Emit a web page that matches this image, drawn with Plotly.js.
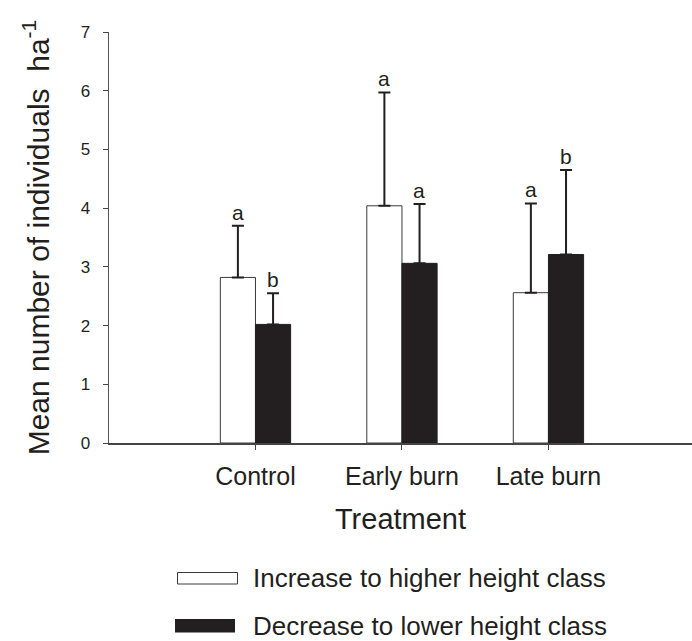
<!DOCTYPE html>
<html>
<head>
<meta charset="utf-8">
<script src="https://cdn.plot.ly/plotly-3.0.1.min.js"></script>
<style>html,body{margin:0;padding:0;background:#fff;}#chart{width:692px;height:641px;}</style>
</head>
<body>
<div id="chart"></div>
<script>
// ---- data ----
var categories = ["Control", "Early burn", "Late burn"];
var increaseMean = [2.82, 4.04, 2.56];
var increaseErr = [0.88, 1.93, 1.52];
var increaseLetters = ["a", "a", "a"];
var decreaseMean = [2.02, 3.06, 3.21];
var decreaseErr = [0.53, 1.01, 1.44];
var decreaseLetters = ["b", "a", "b"];
var seriesNames = ["Increase to higher height class", "Decrease to lower height class"];
var yTitle = "Mean number of individuals  ha<sup>-1</sup>";
var xTitle = "Treatment";

// ---- layout helpers ----
var W = 692, H = 641;
var M = {l: 109, r: 0, t: 32, b: 198};
var plotW = W - M.l - M.r, plotH = H - M.t - M.b;
function px(x) { return (x - M.l) / plotW; }
function py(y) { return (H - M.b - y) / plotH; }
var ink = "#231f20";
var font = "Liberation Sans, Arial, sans-serif";

function zeros(n) { var a = []; for (var i = 0; i < n; i++) a.push(0); return a; }

var traces = [
  {
    type: "bar", name: seriesNames[0], x: categories, y: increaseMean,
    marker: {color: "#ffffff", line: {color: "#3a3a3a", width: 1}},
    error_y: {type: "data", symmetric: false, array: increaseErr, arrayminus: zeros(increaseErr.length),
              color: ink, thickness: 2, width: 6},
    showlegend: false
  },
  {
    type: "bar", name: seriesNames[1], x: categories, y: decreaseMean,
    marker: {color: ink, line: {color: ink, width: 1}},
    error_y: {type: "data", symmetric: false, array: decreaseErr, arrayminus: zeros(decreaseErr.length),
              color: ink, thickness: 2, width: 6},
    showlegend: false
  }
];

var annotations = [];
var barHalf = 17.5;
for (var i = 0; i < categories.length; i++) {
  annotations.push({x: categories[i], y: increaseMean[i] + increaseErr[i], xref: "x", yref: "y",
    text: increaseLetters[i], showarrow: false, xshift: -barHalf, yshift: 0, yanchor: "bottom",
    font: {family: font, size: 21, color: ink}});
  annotations.push({x: categories[i], y: decreaseMean[i] + decreaseErr[i], xref: "x", yref: "y",
    text: decreaseLetters[i], showarrow: false, xshift: barHalf, yshift: 0, yanchor: "bottom",
    font: {family: font, size: 21, color: ink}});
}
// custom legend texts
annotations.push({x: px(251), y: py(578), xref: "paper", yref: "paper", xanchor: "left", yanchor: "middle",
  text: seriesNames[0], showarrow: false, font: {family: font, size: 26, color: ink}});
annotations.push({x: px(251), y: py(626), xref: "paper", yref: "paper", xanchor: "left", yanchor: "middle",
  text: seriesNames[1], showarrow: false, font: {family: font, size: 26, color: ink}});

var shapes = [
  {type: "rect", xref: "paper", yref: "paper", x0: px(177.5), x1: px(237.5), y0: py(584), y1: py(572.5),
   fillcolor: "#ffffff", line: {color: "#3a3a3a", width: 1}},
  {type: "rect", xref: "paper", yref: "paper", x0: px(175), x1: px(235), y0: py(632.5), y1: py(619),
   fillcolor: ink, line: {color: ink, width: 0}}
];

var layout = {
  width: W, height: H,
  margin: M,
  paper_bgcolor: "#ffffff", plot_bgcolor: "#ffffff",
  font: {family: font, color: ink},
  barmode: "group",
  bargap: 0.52, bargroupgap: 0,
  showlegend: false,
  xaxis: {
    type: "category", range: [-1, 2.98],
    showline: true, linecolor: "#444", linewidth: 2,
    ticks: "outside", ticklen: 5, tickcolor: "#444", tickwidth: 1,
    showgrid: false, zeroline: false,
    tickfont: {family: font, size: 25, color: ink},
    ticklabelstandoff: 5,
    title: {text: xTitle, font: {family: font, size: 29, color: ink}, standoff: 20}
  },
  yaxis: {
    range: [0, 7], dtick: 1, tick0: 0,
    showline: true, linecolor: "#555", linewidth: 1.5,
    ticks: "outside", ticklen: 5, tickcolor: "#444", tickwidth: 1,
    showgrid: false, zeroline: false,
    tickfont: {family: font, size: 17, color: ink},
    ticklabelstandoff: 9,
    title: {text: yTitle, font: {family: font, size: 30, color: ink}, standoff: 22}
  },
  annotations: annotations,
  shapes: shapes
};

Plotly.newPlot("chart", traces, layout, {displayModeBar: false, staticPlot: true});
</script>
</body>
</html>
